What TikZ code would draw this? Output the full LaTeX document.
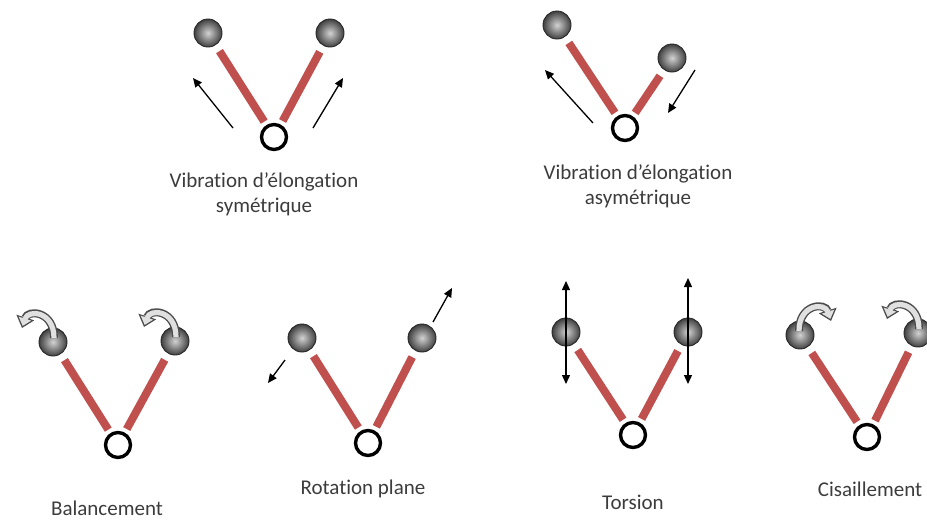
\documentclass[tikz,border=0pt]{standalone}
\usepackage{fontspec}
\setmainfont{Carlito}[Ligatures=NoCommon]
\usepackage{tikz}
\usetikzlibrary{arrows.meta}

\definecolor{bondred}{RGB}{192,80,77}
\definecolor{textgray}{RGB}{60,60,60}

% hollow curved arrow sitting on top of an atom (#2 = 1 bends left, -1 bends right)
\newcommand{\rockarrow}[2]{%
  \begin{scope}[shift={(#1.center)}, xscale=#2]
    \draw[line width=8pt, black!70, -{Triangle[length=11pt,width=18pt]}]
      (1,-4) .. controls (1,-31) and (-25,-33) .. (-31,-14);
    \draw[line width=5.2pt, black!12, shorten >=2.2pt, -{Triangle[length=7.6pt,width=12.6pt]}]
      (1,-4) .. controls (1,-31) and (-25,-33) .. (-31,-14);
  \end{scope}}

\begin{document}
\begin{tikzpicture}[
        x=1pt, y=-1pt,
        atom/.style={circle, minimum size=28pt, inner sep=0pt, inner color=gray!35,
                     outer color=black!75, draw=black!85, line width=0.9pt},
        centre/.style={circle, minimum size=25pt, inner sep=0pt, fill=white,
                       draw=black, line width=3.4pt},
        bond/.style={bondred, line width=8pt, shorten <=7pt, shorten >=4pt},
        move/.style={line width=1.3pt, -{Triangle[length=9pt,width=8pt]}},
        updown/.style={line width=1.3pt, {Triangle[length=9pt,width=8pt]}-{Triangle[length=9pt,width=8pt]}},
        modename/.style={textgray, align=center, font=\fontsize{21}{25}\selectfont}
        ]
        \useasboundingbox (0,0) rectangle (927,520);

        % symmetric stretching
        \node[atom] (l1) at (208,33) {};
        \node[atom] (r1) at (330,33) {};
        \node[centre] (c1) at (274,137) {};
        \path[bond] (l1) edge (c1) (r1) edge (c1);
        \coordinate (a1) at (233,128);
        \coordinate (a1e) at (193,78);
        \coordinate (b1) at (313,128);
        \coordinate (b1e) at (343,78);
        \draw[move] (a1) -- (a1e);
        \draw[move] (b1) -- (b1e);
        \node[modename] (t1) at (264,194) {Vibration d’élongation\\symétrique};

        % asymmetric stretching
        \node[atom] (l2) at (557,25) {};
        \node[atom] (r2) at (672,58) {};
        \node[centre] (c2) at (625,128) {};
        \path[bond] (l2) edge (c2) (r2) edge (c2);
        \coordinate (a2) at (593,123);
        \coordinate (a2e) at (545,70);
        \coordinate (b2) at (695,70);
        \coordinate (b2e) at (668,113);
        \draw[move] (a2) -- (a2e);
        \draw[move] (b2) -- (b2e);
        \node[modename] (t2) at (638,186) {Vibration d’élongation\\asymétrique};

        % rocking
        \node[atom] (l3) at (53,342) {};
        \node[atom] (r3) at (175,341) {};
        \node[centre] (c3) at (118,445) {};
        \path[bond] (l3) edge (c3) (r3) edge (c3);
        \rockarrow{l3}{1}
        \rockarrow{r3}{1}
        \node[modename] (t3) at (107,508) {Balancement};

        % in-plane rotation
        \node[atom] (l4) at (302,338) {};
        \node[atom] (r4) at (422,338) {};
        \node[centre] (c4) at (368,443) {};
        \path[bond] (l4) edge (c4) (r4) edge (c4);
        \coordinate (a4) at (285,360);
        \coordinate (a4e) at (268,383);
        \coordinate (b4) at (433,322);
        \coordinate (b4e) at (452,288);
        \draw[move] (a4) -- (a4e);
        \draw[move] (b4) -- (b4e);
        \node[modename] (t4) at (363,489) {Rotation plane};

        % twisting
        \node[atom] (l5) at (566,332) {};
        \node[atom] (r5) at (688,332) {};
        \node[centre] (c5) at (633,435) {};
        \path[bond] (l5) edge (c5) (r5) edge (c5);
        \coordinate (a5) at (566,281);
        \coordinate (a5e) at (566,384);
        \coordinate (b5) at (688,278);
        \coordinate (b5e) at (688,384);
        \draw[updown] (a5) -- (a5e);
        \draw[updown] (b5) -- (b5e);
        \node[modename] (t5) at (633,502) {Torsion};

        % scissoring
        \node[atom] (l6) at (800,335) {};
        \node[atom] (r6) at (918,333) {};
        \node[centre] (c6) at (867,437) {};
        \path[bond] (l6) edge (c6) (r6) edge (c6);
        \rockarrow{l6}{-1}
        \rockarrow{r6}{1}
        \node[modename] (t6) at (870,489) {Cisaillement};
\end{tikzpicture}
\end{document}
